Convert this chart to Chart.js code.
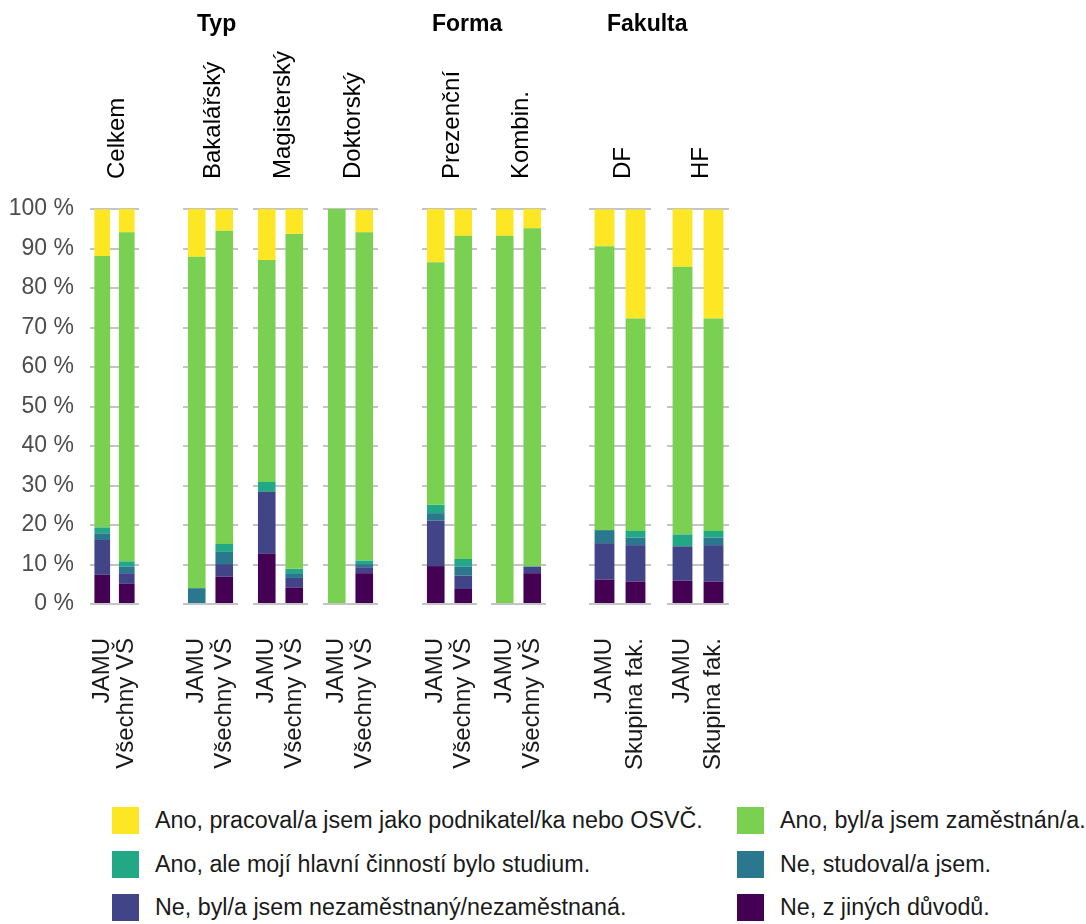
<!DOCTYPE html>
<html>
<head>
<meta charset="utf-8">
<script src="https://cdn.jsdelivr.net/npm/chart.js@4.4.1/dist/chart.umd.min.js"></script>
<style>
  body { margin: 0; background: #fff; font-family: "Liberation Sans", Arial, sans-serif; }
  #wrap { position: relative; width: 1086px; height: 924px; overflow: hidden; }
  .panel { position: absolute; top: 0; }
  .grp { position: absolute; top: 12px; font-weight: bold; font-size: 23px; line-height: 23px; color: #000; }
  .item { position: absolute; display: flex; align-items: center; height: 27px; font-size: 23.3px; color: #1a1a1a; white-space: nowrap; }
  .box { width: 27px; height: 27px; margin-right: 16px; flex: none; }
</style>
</head>
<body>
<div id="wrap"></div>
<script>
// facets and bars
const panels = ['Celkem', 'Bakalářský', 'Magisterský', 'Doktorský', 'Prezenční', 'Kombin.', 'DF', 'HF'];
const barLabels = [
  ['JAMU', 'Všechny VŠ'], ['JAMU', 'Všechny VŠ'], ['JAMU', 'Všechny VŠ'], ['JAMU', 'Všechny VŠ'],
  ['JAMU', 'Všechny VŠ'], ['JAMU', 'Všechny VŠ'], ['JAMU', 'Skupina fak.'], ['JAMU', 'Skupina fak.']
];
const groupTitles = ['Typ', 'Forma', 'Fakulta'];
const yTicks = [0, 10, 20, 30, 40, 50, 60, 70, 80, 90, 100];

// legend order (top of the stack first)
const seriesNames = [
  'Ano, pracoval/a jsem jako podnikatel/ka nebo OSVČ.',
  'Ano, byl/a jsem zaměstnán/a.',
  'Ano, ale mojí hlavní činností bylo studium.',
  'Ne, studoval/a jsem.',
  'Ne, byl/a jsem nezaměstnaný/nezaměstnaná.',
  'Ne, z jiných důvodů.'
];

// % per bar: Celkem, Bak, Mag, Dok, Prez, Kombin, DF, HF (JAMU, comparison)
const podnikatel   = [11.8, 6.0, 12.1, 5.5, 12.9, 6.3, 0, 5.7, 13.5, 6.8, 6.8, 4.9, 9.3, 27.6, 14.6, 27.6];
const zamestnan    = [68.7, 83.3, 83.9, 79.3, 56.2, 84.8, 100, 83.1, 61.4, 81.8, 93.2, 85.5, 71.9, 53.8, 67.8, 53.8];
const studium      = [1.5, 1.3, 0, 2.0, 2.5, 1.1, 0, 0.9, 2.1, 1.9, 0, 0.1, 0, 1.7, 3.0, 1.7];
const studoval     = [1.7, 1.7, 4.0, 3.1, 0, 1.2, 0, 0.8, 1.9, 2.3, 0, 0.1, 3.3, 1.9, 0, 1.9];
const nezamestnany = [8.8, 2.7, 0, 3.2, 15.6, 2.4, 0, 1.5, 11.5, 3.4, 0, 1.6, 9.2, 9.2, 8.7, 9.2];
const jine         = [7.4, 5.1, 0, 6.9, 12.8, 4.2, 0, 7.8, 9.6, 3.8, 0, 7.8, 6.2, 5.7, 5.9, 5.7];

const seriesData = [podnikatel, zamestnan, studium, studoval, nezamestnany, jine];
const colors = ['#FDE725', '#7AD151', '#22A884', '#2A788E', '#414487', '#440154'];

// layout
const panelLeft = [90, 183, 253, 323, 422, 491, 589, 667];
const panelWidth = [49, 55, 55, 55, 55, 55, 62, 62];
const groupLeft = [197, 432, 607];
const plotTop = 209, plotBottom = 604, canvasH = 790;

Chart.defaults.font.family = '"Liberation Sans", Arial, sans-serif';
Chart.defaults.font.size = 23;

const wrap = document.getElementById('wrap');

panels.forEach((name, p) => {
  const padL = p === 0 ? panelLeft[0] : 0;
  const div = document.createElement('div');
  div.className = 'panel';
  div.style.left = (panelLeft[p] - padL) + 'px';
  const canvas = document.createElement('canvas');
  canvas.width = padL + panelWidth[p];
  canvas.height = canvasH;
  div.appendChild(canvas);
  wrap.appendChild(div);

  // stack bottom-up: last legend entry first
  const datasets = seriesNames.map((label, i) => ({
    label,
    data: seriesData[i].slice(p * 2, p * 2 + 2),
    backgroundColor: colors[i]
  })).reverse();

  new Chart(canvas, {
    type: 'bar',
    data: { labels: barLabels[p], datasets },
    options: {
      responsive: false,
      animation: false,
      layout: { padding: 0 },
      plugins: { legend: { display: false }, tooltip: { enabled: false } },
      datasets: { bar: { barPercentage: 0.64, categoryPercentage: 1, borderWidth: 0 } },
      scales: {
        x: {
          stacked: true,
          grid: { display: false },
          border: { display: false },
          ticks: { autoSkip: false, minRotation: 90, maxRotation: 90, padding: 26, color: '#1a1a1a', font: { size: 24 } },
          afterFit: s => { s.height = canvasH - plotBottom; s.paddingLeft = 0; s.paddingRight = 0; }
        },
        strip: {
          type: 'category',
          position: 'top',
          labels: [name],
          offset: true,
          grid: { display: false },
          border: { display: false },
          ticks: { minRotation: 90, maxRotation: 90, padding: 22, labelOffset: 32, color: '#000', font: { size: 24 } },
          afterFit: s => { s.height = plotTop; s.paddingLeft = 0; s.paddingRight = 0; }
        },
        y: {
          stacked: true,
          min: 0,
          max: 100,
          afterBuildTicks: s => { s.ticks = yTicks.map(v => ({ value: v })); },
          ticks: { display: p === 0, padding: 16, color: '#4d4d4d', callback: v => v + ' %' },
          grid: { color: '#c4c4c4', lineWidth: 2, drawTicks: false },
          border: { display: false },
          afterFit: s => { s.width = padL; s.paddingTop = 0; s.paddingBottom = 0; }
        }
      }
    }
  });
});

groupTitles.forEach((t, i) => {
  const d = document.createElement('div');
  d.className = 'grp';
  d.style.left = groupLeft[i] + 'px';
  d.textContent = t;
  wrap.appendChild(d);
});

// legend: two columns, three rows
const legendCols = [112, 737];
const legendTop = 807, legendRow = 43.5;
seriesNames.forEach((label, i) => {
  const it = document.createElement('div');
  it.className = 'item';
  it.style.left = legendCols[i % 2] + 'px';
  it.style.top = (legendTop + Math.floor(i / 2) * legendRow) + 'px';
  const b = document.createElement('span');
  b.className = 'box';
  b.style.background = colors[i];
  const s = document.createElement('span');
  s.textContent = label;
  it.appendChild(b);
  it.appendChild(s);
  wrap.appendChild(it);
});
</script>
</body>
</html>
